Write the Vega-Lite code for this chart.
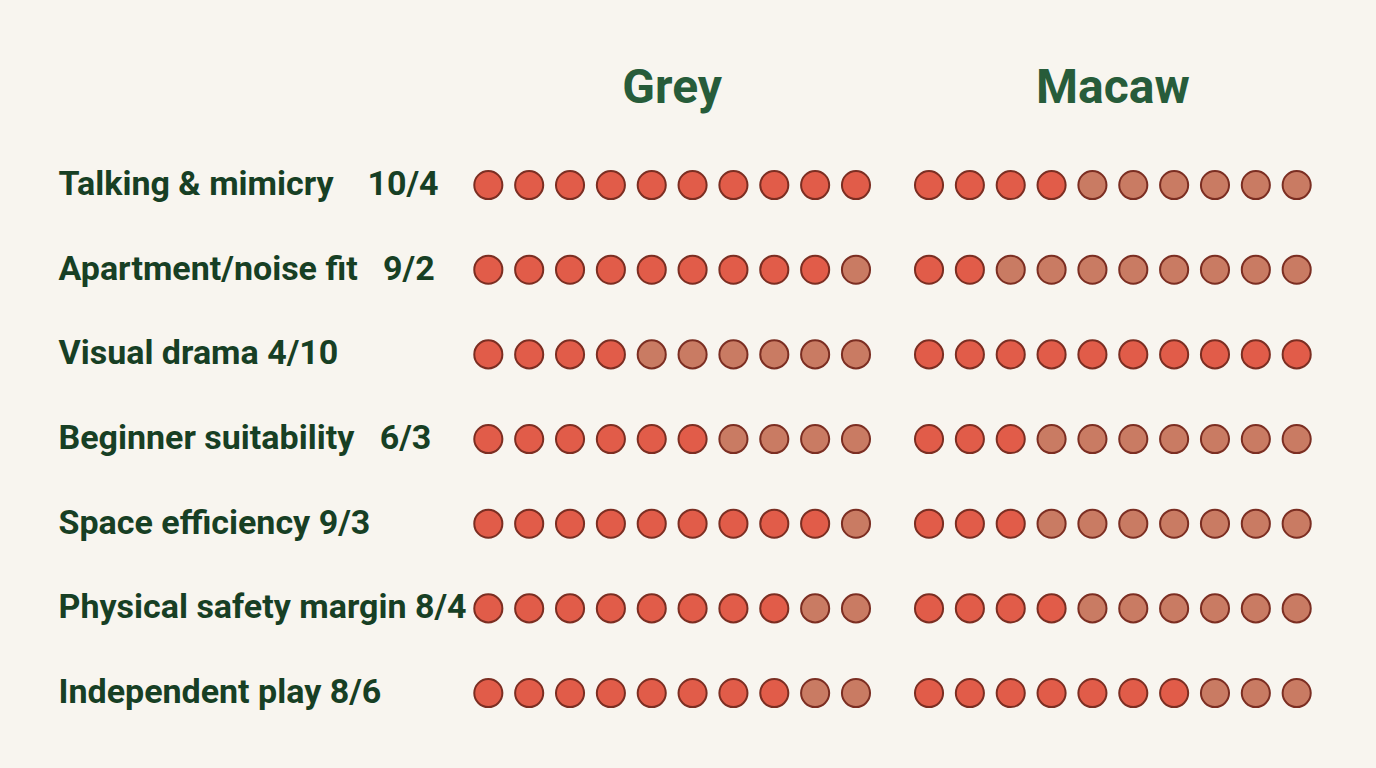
{
  "$schema": "https://vega.github.io/schema/vega-lite/v6.json",
  "width": 881.4,
  "height": 592.7,
  "autosize": {"type": "none"},
  "padding": {"left": 451.8, "top": 142.7, "right": 42.8, "bottom": 32.6},
  "background": "#f8f5ef",
  "config": {"view": {"stroke": null}, "font": "Roboto"},
  "data": {
    "values": [
      {"label": "Talking & mimicry\u00a0\u00a0\u00a0 10/4", "parrot": "Grey", "i": [1,2,3,4,5,6,7,8,9,10], "on": [1,1,1,1,1,1,1,1,1,1]},
      {"label": "Talking & mimicry\u00a0\u00a0\u00a0 10/4", "parrot": "Macaw", "i": [1,2,3,4,5,6,7,8,9,10], "on": [1,1,1,1,0,0,0,0,0,0]},
      {"label": "Apartment/noise fit\u00a0\u00a0 9/2", "parrot": "Grey", "i": [1,2,3,4,5,6,7,8,9,10], "on": [1,1,1,1,1,1,1,1,1,0]},
      {"label": "Apartment/noise fit\u00a0\u00a0 9/2", "parrot": "Macaw", "i": [1,2,3,4,5,6,7,8,9,10], "on": [1,1,0,0,0,0,0,0,0,0]},
      {"label": "Visual drama 4/10", "parrot": "Grey", "i": [1,2,3,4,5,6,7,8,9,10], "on": [1,1,1,1,0,0,0,0,0,0]},
      {"label": "Visual drama 4/10", "parrot": "Macaw", "i": [1,2,3,4,5,6,7,8,9,10], "on": [1,1,1,1,1,1,1,1,1,1]},
      {"label": "Beginner suitability\u00a0\u00a0 6/3", "parrot": "Grey", "i": [1,2,3,4,5,6,7,8,9,10], "on": [1,1,1,1,1,1,0,0,0,0]},
      {"label": "Beginner suitability\u00a0\u00a0 6/3", "parrot": "Macaw", "i": [1,2,3,4,5,6,7,8,9,10], "on": [1,1,1,0,0,0,0,0,0,0]},
      {"label": "Space efficiency 9/3", "parrot": "Grey", "i": [1,2,3,4,5,6,7,8,9,10], "on": [1,1,1,1,1,1,1,1,1,0]},
      {"label": "Space efficiency 9/3", "parrot": "Macaw", "i": [1,2,3,4,5,6,7,8,9,10], "on": [1,1,1,0,0,0,0,0,0,0]},
      {"label": "Physical safety margin 8/4", "parrot": "Grey", "i": [1,2,3,4,5,6,7,8,9,10], "on": [1,1,1,1,1,1,1,1,0,0]},
      {"label": "Physical safety margin 8/4", "parrot": "Macaw", "i": [1,2,3,4,5,6,7,8,9,10], "on": [1,1,1,1,0,0,0,0,0,0]},
      {"label": "Independent play 8/6", "parrot": "Grey", "i": [1,2,3,4,5,6,7,8,9,10], "on": [1,1,1,1,1,1,1,1,0,0]},
      {"label": "Independent play 8/6", "parrot": "Macaw", "i": [1,2,3,4,5,6,7,8,9,10], "on": [1,1,1,1,1,1,1,0,0,0]}
    ]
  },
  "transform": [{"flatten": ["i", "on"]}],
  "mark": {"type": "point", "filled": true, "shape": "circle", "size": 790, "strokeWidth": 2, "stroke": "#7b2e22", "opacity": 1},
  "encoding": {
    "x": {
      "field": "parrot", "type": "nominal", "sort": ["Grey", "Macaw"],
      "scale": {"type": "band", "paddingInner": 0, "paddingOuter": 0},
      "axis": {"orient": "top", "title": null, "domain": false, "ticks": false, "tickSize": 0, "labelPadding": 40.7, "labelBaseline": "alphabetic", "labelFont": "Roboto", "labelFontSize": 48, "labelFontWeight": "bold", "labelColor": "#275c3a", "labelAngle": 0}
    },
    "xOffset": {
      "field": "i", "type": "ordinal",
      "scale": {"type": "point", "padding": 0.894}
    },
    "y": {
      "field": "label", "type": "nominal", "sort": null,
      "scale": {"type": "band", "paddingInner": 0, "paddingOuter": 0},
      "axis": {"title": null, "domain": false, "ticks": false, "tickSize": 0, "labelAlign": "left", "labelPadding": 393.8, "labelFont": "Roboto", "labelFontSize": 34, "labelFontWeight": "bold", "labelColor": "#173f24", "labelLimit": 0, "labelBaseline": "middle"}
    },
    "color": {
      "field": "on", "type": "nominal",
      "scale": {"domain": [1, 0], "range": ["#e15c49", "#c97b63"]},
      "legend": null
    }
  }
}
